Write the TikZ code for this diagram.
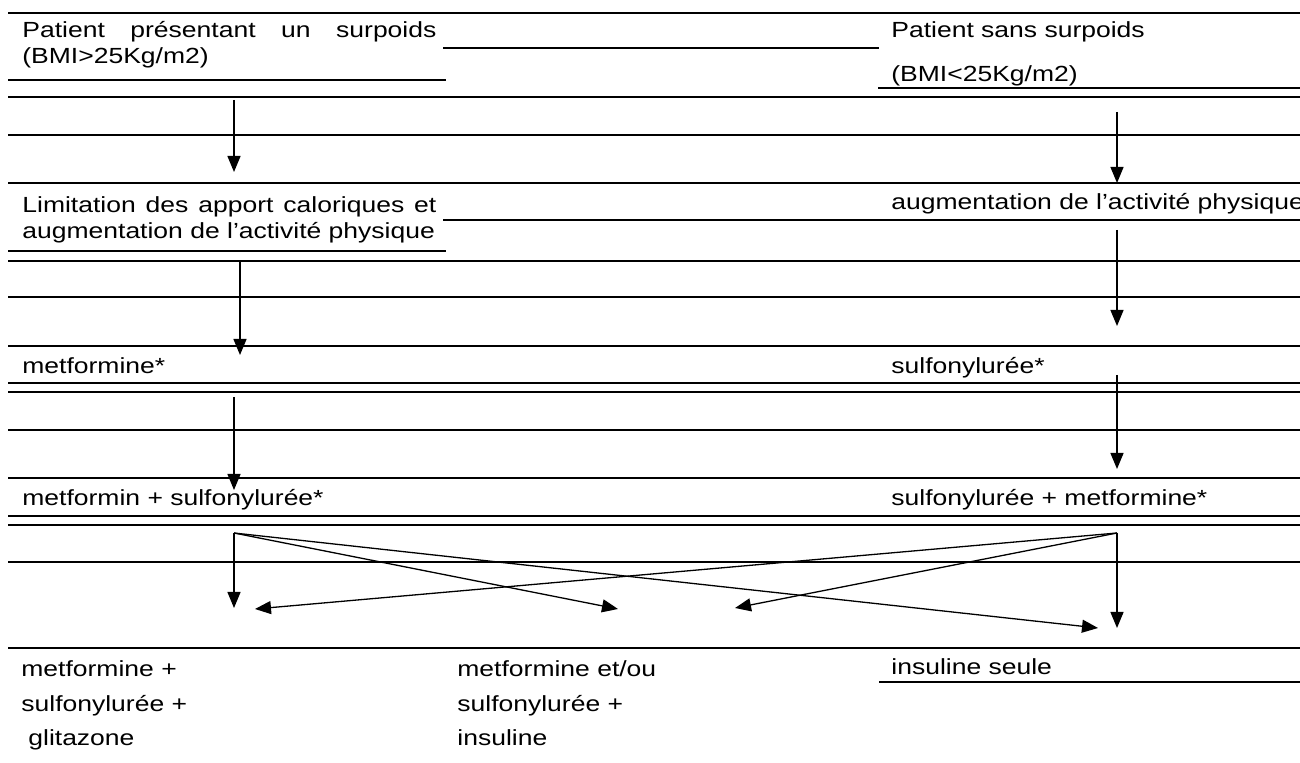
\documentclass[tikz,border=0pt]{standalone}
\usepackage{fontspec}
\setmainfont[FakeStretch=1.21]{Liberation Sans}
\usetikzlibrary{arrows.meta}
\begin{document}
\begin{tikzpicture}[x=0.5pt,y=-0.5pt,
  rule/.style={line width=0.9pt},
  arr/.style={line width=0.65pt,-{Triangle[length=8pt,width=6.5pt]}},
  txt/.style={anchor=base west,inner sep=0pt,font=\fontsize{10.95pt}{13pt}\selectfont}]
\clip (0,0) rectangle (1300,763);
% horizontal rules
\foreach \yy in {13,97,135,183,261,297,346,383,392,430,478,516,525,562,648}
  \draw[rule] (8,\yy) -- (1300,\yy);
\draw[rule] (443,48) -- (879,48);
\draw[rule] (8,80) -- (446,80);
\draw[rule] (878,88) -- (1300,88);
\draw[rule] (443,220) -- (1300,220);
\draw[rule] (8,251) -- (446,251);
\draw[rule] (879,682) -- (1300,682);
% texts
\node[txt] (t1) at (22,38) {\makebox[207pt][s]{Patient présentant un surpoids}};
\node[txt] (t2) at (22,64) {(BMI>25Kg/m2)};
\node[txt] (t3) at (891,38) {Patient sans surpoids};
\node[txt] (t4) at (891,82) {(BMI<25Kg/m2)};
\node[txt] (t5) at (22,213) {\makebox[207pt][s]{Limitation des apport caloriques et}};
\node[txt] (t6) at (22,239) {augmentation de l’activité physique};
\node[txt] (t7) at (891,210) {augmentation de l’activité physique};
\node[txt] (t8) at (22,374) {metformine*};
\node[txt] (t9) at (891,374) {sulfonylurée*};
\node[txt] (t10) at (22,506) {metformin + sulfonylurée*};
\node[txt] (t11) at (891,506) {sulfonylurée + metformine*};
\node[txt] (t12) at (21,676) {metformine +};
\node[txt] (t13) at (21,711) {sulfonylurée +};
\node[txt] (t14) at (28,745) {glitazone};
\node[txt] (t15) at (457,676) {metformine et/ou};
\node[txt] (t16) at (457,711) {sulfonylurée +};
\node[txt] (t17) at (457,745) {insuline};
\node[txt] (t18) at (891,675) {insuline seule};
% arrow end points
\coordinate (a1s) at (234,100); \coordinate (a1e) at (234,172);
\coordinate (a2s) at (1117,112); \coordinate (a2e) at (1117,183);
\coordinate (a3s) at (240,261); \coordinate (a3e) at (240,355);
\coordinate (a4s) at (1117,230); \coordinate (a4e) at (1117,326);
\coordinate (a5s) at (234,397); \coordinate (a5e) at (234,490);
\coordinate (a6s) at (1117,375); \coordinate (a6e) at (1117,469);
\coordinate (L) at (234,533); \coordinate (R) at (1117,533);
\coordinate (L1) at (234,608); \coordinate (L2) at (618,609); \coordinate (L3) at (1098,628);
\coordinate (R1) at (1117,628); \coordinate (R2) at (735,608); \coordinate (R3) at (255,609);
% arrows
\draw[arr] (a1s) -- (a1e);
\draw[arr] (a2s) -- (a2e);
\draw[arr] (a3s) -- (a3e);
\draw[arr] (a4s) -- (a4e);
\draw[arr] (a5s) -- (a5e);
\draw[arr] (a6s) -- (a6e);
\draw[arr] (L) -- (L1);
\draw[arr] (L) -- (L2);
\draw[arr] (L) -- (L3);
\draw[arr] (R) -- (R1);
\draw[arr] (R) -- (R2);
\draw[arr] (R) -- (R3);
\end{tikzpicture}
\end{document}
